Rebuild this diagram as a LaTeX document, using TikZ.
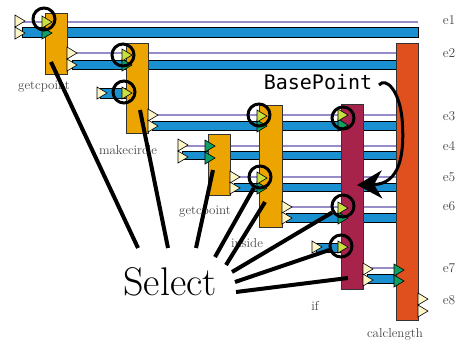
\documentclass[tikz,border=0pt]{standalone}
\usepackage{fontspec}
\newfontfamily\bpfont{DejaVu Sans Mono}
\usetikzlibrary{arrows.meta}
\definecolor{boxorange}{RGB}{236,164,0}
\definecolor{boxred}{RGB}{224,80,30}
\definecolor{boxcrimson}{RGB}{168,35,75}
\definecolor{barblue}{RGB}{26,144,208}
\definecolor{linepurple}{RGB}{152,140,200}
\definecolor{cream}{RGB}{255,246,200}
\definecolor{lgreen}{RGB}{200,224,64}
\definecolor{dgreen}{RGB}{16,160,100}
\definecolor{labelgray}{RGB}{70,70,70}
\tikzset{
  fbox/.style={draw=black!80, line width=0.7pt, inner sep=0pt, minimum width=22pt},
  trackline/.style={linepurple, line width=2pt},
  trackbar/.style={fill=barblue, draw=black, line width=0.7pt},
  tri/.style={draw=black, line width=0.6pt, line join=miter},
  ring/.style={circle, draw=black, line width=3pt, minimum size=22pt, inner sep=0pt},
  selline/.style={line width=4pt, black},
  lab/.style={font=\fontsize{13}{15}\selectfont, text=labelgray, inner sep=0pt},
  elab/.style={font=\fontsize{13.5}{15}\selectfont, text=labelgray, inner sep=0pt}
}
\newcommand\mytrk[5]{%
  \draw[trackline] ({#1},{#3}) -- ({#2},{#3});
  \filldraw[trackbar] ({#1},{#4}) rectangle ({#2},{#4+#5});}
\newcommand\myblbar[4]{%
  \filldraw[trackbar] ({#1},{#3}) rectangle ({#2},{#3+#4});}
\newcommand\mytri[3]{%
  \filldraw[tri, fill=#1] ({#2},{#3-6}) -- ({#2+10},{#3}) -- ({#2},{#3+6}) -- cycle;}
\begin{document}
\begin{tikzpicture}[x=1pt,y=-1pt]
\useasboundingbox (0,0) rectangle (460,341);
% tracks
\mytrk{22}{418}{22}{27}{10}
\mytrk{72}{396}{53}{60}{9}
\myblbar{100}{126}{88}{10}
\mytrk{152}{396}{115}{121}{9}
\mytrk{182}{396}{146}{151}{8.5}
\mytrk{234}{396}{177}{183}{8.5}
\mytrk{286}{396}{207}{213}{9}
\myblbar{316}{341}{243}{9}
\mytrk{367}{396}{268}{274}{9}
% boxes
\node[fbox, fill=boxorange, minimum height=61pt] (gc1) at (56,43.5) {};
\node[fbox, fill=boxorange, minimum height=90pt] (mc) at (137,88) {};
\node[fbox, fill=boxorange, minimum height=61pt] (gc2) at (219,164.5) {};
\node[fbox, fill=boxorange, minimum width=23pt, minimum height=122pt] (ins) at (270.5,166) {};
\node[fbox, fill=boxcrimson, minimum height=185pt] (ifb) at (352,196.5) {};
\node[fbox, fill=boxred, minimum height=277pt] (cl) at (407,181.5) {};
% cream triangles
\mytri{cream}{15}{21}\mytri{cream}{15}{33}
\mytri{cream}{67}{53}\mytri{cream}{67}{65}
\mytri{cream}{97}{93}
\mytri{cream}{148}{115}\mytri{cream}{148}{126}
\mytri{cream}{178}{145}\mytri{cream}{178}{157}
\mytri{cream}{230}{177}\mytri{cream}{230}{188}
\mytri{cream}{282}{207}\mytri{cream}{282}{218}
\mytri{cream}{312}{247}
\mytri{cream}{363}{269}\mytri{cream}{363}{280}
\mytri{cream}{418}{299}\mytri{cream}{418}{311}
% dark green
\mytri{dgreen}{42}{33}\mytri{dgreen}{122}{65}\mytri{dgreen}{257}{126}\mytri{dgreen}{257}{188}
\mytri{dgreen}{338}{125}\mytri{dgreen}{338}{218}\mytri{dgreen}{205}{146}\mytri{dgreen}{205}{158}
\mytri{dgreen}{394}{270}\mytri{dgreen}{394}{281}
% light green
\mytri{lgreen}{42}{22}\mytri{lgreen}{122}{55}\mytri{lgreen}{122}{93}\mytri{lgreen}{257}{116}
\mytri{lgreen}{257}{178}\mytri{lgreen}{338}{115}\mytri{lgreen}{338}{208}\mytri{lgreen}{338}{247}
% rings
\node[ring] (r1) at (44,19) {};
\node[ring] (r2) at (123,55) {};
\node[ring] (r3) at (124,92) {};
\node[ring] (r4) at (259,115) {};
\node[ring] (r5) at (260,177) {};
\node[ring] (r6) at (343,118) {};
\node[ring] (r7) at (343,206) {};
\node[ring] (r8) at (341,246) {};
% labels
\node[lab] (lgc1) at (44,87) {getcpoint};
\node[lab] (lmc) at (128,150) {makecircle};
\node[lab] (lgc2) at (205,212) {getcpoint};
\node[lab] (lins) at (247,243) {inside};
\node[lab] (lif) at (315,306) {if};
\node[lab] (lcl) at (395,334) {calclength};
\node[elab] (e1) at (449,20) {e1};
\node[elab] (e2) at (449,53) {e2};
\node[elab] (e3) at (449,116) {e3};
\node[elab] (e4) at (449,146) {e4};
\node[elab] (e5) at (449,177) {e5};
\node[elab] (e6) at (449,206) {e6};
\node[elab] (e7) at (449,268) {e7};
\node[elab] (e8) at (449,300) {e8};
% Select
\node[font=\fontsize{40}{42}\selectfont, inner sep=0pt] (sel) at (170,282) {Select};
\coordinate (s1) at (138,248);
\coordinate (s2) at (168,248);
\coordinate (s3) at (196,248);
\coordinate (s4) at (215,257);
\coordinate (s5) at (226,265);
\coordinate (s6) at (232,272);
\coordinate (s7) at (235,282);
\coordinate (s8) at (236,292);
\coordinate (t1) at (51,62);
\coordinate (t2) at (140,110);
\coordinate (t3) at (213,170);
\coordinate (t5) at (265,202);
\coordinate (t8) at (348,278);
\draw[selline] (s1) -- (t1);
\draw[selline] (s2) -- (t2);
\draw[selline] (s3) -- (t3);
\draw[selline] (s4) -- (r5);
\draw[selline] (s5) -- (t5);
\draw[selline] (s6) -- (r7);
\draw[selline] (s7) -- (r8);
\draw[selline] (s8) -- (t8);
% BasePoint
\node[font=\bpfont\fontsize{20}{22}\selectfont, inner sep=0pt] (bp) at (318,82) {BasePoint};
\coordinate (a0) at (379,85);
\coordinate (a1) at (357,185);
\draw[line width=3pt, -{Stealth[length=25pt,width=28pt,inset=8pt]}]
  (a0) .. controls (386,77) and (399,90) .. (402,118)
  .. controls (405,155) and (400,184) .. (a1);
\end{tikzpicture}
\end{document}
